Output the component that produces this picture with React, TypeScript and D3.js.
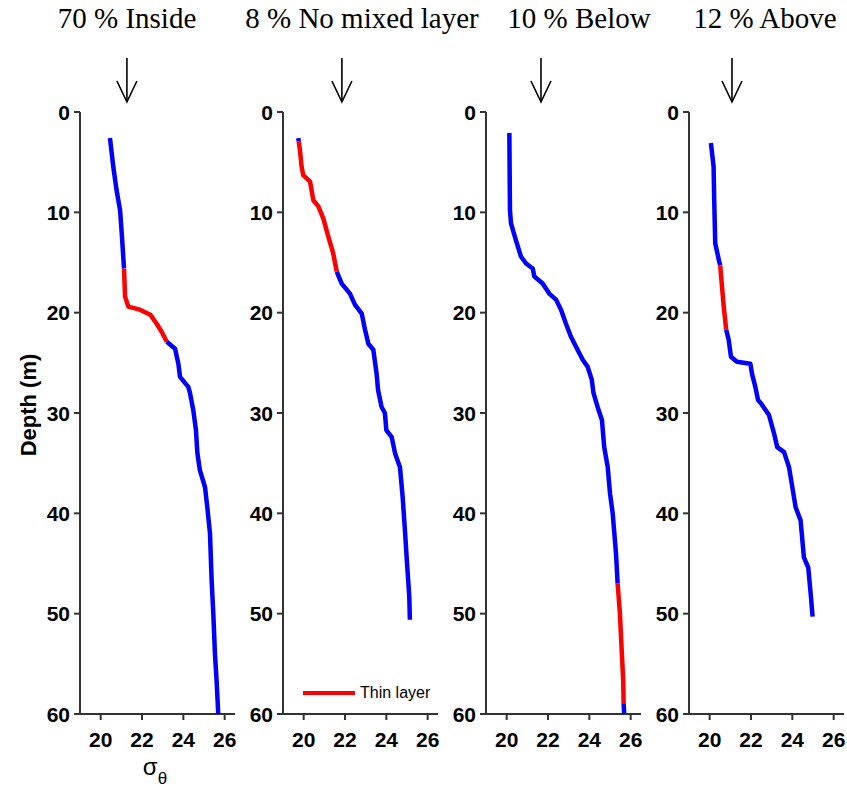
import React from "react";
import * as d3 from "d3";

// ---- data ----
const titles = ["70 % Inside", "8 % No mixed layer", "10 % Below", "12 % Above"];
const arrowSigma = [21.27, 21.85, 21.66, 21.08];
const depthTicks = [0, 10, 20, 30, 40, 50, 60];
const sigmaTicks = [20, 22, 24, 26];

const depth1 = [2.6, 5.45, 7.8, 9.8, 12.1, 15.6, 18.4, 19.4, 19.7, 20.2, 21.1, 21.9, 22.9, 23.6, 25.1, 26.4, 27.4, 28.0, 29.7, 31.7, 34.0, 35.7, 37.4, 39.4, 42.0, 46.7, 50.0, 54.0, 56.7, 60.0];
const sigma1 = [20.45, 20.61, 20.77, 20.94, 21.02, 21.13, 21.18, 21.34, 21.9, 22.4, 22.71, 22.95, 23.2, 23.6, 23.76, 23.84, 24.24, 24.32, 24.48, 24.61, 24.68, 24.8, 25.05, 25.16, 25.29, 25.37, 25.45, 25.53, 25.61, 25.69];

const depth2 = [2.6, 2.9, 3.8, 5.45, 6.3, 6.95, 8.8, 9.4, 10.6, 12.4, 14.1, 15.9, 17.1, 18.1, 19.2, 20.1, 21.7, 23.1, 23.7, 26.1, 27.7, 29.4, 30.0, 31.7, 32.4, 34.0, 35.4, 38.4, 41.7, 44.3, 48.3, 50.6];
const sigma2 = [19.74, 19.76, 19.82, 19.9, 19.98, 20.31, 20.47, 20.71, 20.95, 21.19, 21.43, 21.6, 21.84, 22.24, 22.48, 22.81, 22.97, 23.13, 23.37, 23.53, 23.6, 23.77, 23.93, 24.0, 24.26, 24.42, 24.66, 24.79, 24.9, 24.98, 25.11, 25.14];

const depth3 = [2.1, 9.8, 11.1, 12.8, 14.4, 15.1, 15.6, 16.4, 17.1, 18.1, 18.7, 19.7, 21.1, 22.4, 23.7, 24.7, 25.4, 26.7, 28.0, 29.4, 30.7, 33.4, 35.4, 38.0, 40.0, 42.0, 44.0, 47.0, 50.0, 53.4, 56.7, 59.0, 60.0];
const sigma3 = [20.13, 20.16, 20.21, 20.45, 20.69, 20.94, 21.26, 21.34, 21.74, 22.06, 22.39, 22.63, 22.87, 23.11, 23.43, 23.68, 23.92, 24.12, 24.2, 24.4, 24.61, 24.72, 24.89, 25.0, 25.13, 25.21, 25.29, 25.37, 25.48, 25.56, 25.64, 25.66, 25.69];

const depth4 = [3.1, 5.45, 8.8, 13.1, 14.8, 15.3, 19.4, 21.7, 22.7, 24.4, 24.9, 25.1, 26.1, 27.4, 28.7, 29.0, 30.2, 32.0, 33.4, 33.9, 35.4, 37.4, 39.4, 40.7, 44.4, 45.4, 48.3, 50.3];
const sigma4 = [20.06, 20.19, 20.22, 20.27, 20.45, 20.51, 20.68, 20.8, 20.92, 21.03, 21.32, 21.97, 22.05, 22.21, 22.34, 22.47, 22.87, 23.11, 23.27, 23.6, 23.84, 24.0, 24.16, 24.4, 24.56, 24.77, 24.9, 24.98];

// thin layer (red) depth ranges per profile
const thinStart = [15.6, 2.9, 47.0, 15.3];
const thinEnd = [22.9, 15.9, 59.0, 21.7];

const depths = [depth1, depth2, depth3, depth4];
const sigmas = [sigma1, sigma2, sigma3, sigma4];

// ---- layout ----
const W = 847;
const H = 790;
const panelX0 = 80;
const panelStep = 203;
const plotW = 155;
const top = 112;
const bottom = 714;
const BLUE = "#0000ff";
const RED = "#ff0000";
const AXIS = "#333333";
const SANS = "'Liberation Sans', Arial, sans-serif";
const SERIF = "'Liberation Serif', 'Times New Roman', serif";

const x = d3.scaleLinear().domain([19, 26.5]).range([0, plotW]);
const y = d3.scaleLinear().domain([0, 60]).range([top, bottom]);

type Pt = { d: number; s: number };

function segments(i: number) {
  const pts: Pt[] = depths[i].map((d, k) => ({ d, s: sigmas[i][k] }));
  const segs: { red: boolean; pts: Pt[] }[] = [];
  for (let k = 0; k < pts.length - 1; k++) {
    const a = pts[k];
    const b = pts[k + 1];
    const red = a.d >= thinStart[i] && b.d <= thinEnd[i];
    const last = segs[segs.length - 1];
    if (last && last.red === red) last.pts.push(b);
    else segs.push({ red, pts: [a, b] });
  }
  return segs;
}

const line = d3
  .line<Pt>()
  .x((p) => x(p.s))
  .y((p) => y(p.d));

function Panel({ i }: { i: number }) {
  const x0 = panelX0 + i * panelStep;
  const ax = x(arrowSigma[i]);
  return (
    <g transform={`translate(${x0},0)`}>
      {/* axes */}
      <line x1={0} x2={0} y1={top} y2={bottom} stroke={AXIS} strokeWidth={2} />
      <line x1={0} x2={plotW} y1={bottom} y2={bottom} stroke={AXIS} strokeWidth={2} />
      {depthTicks.map((t) => (
        <g key={"y" + t}>
          <line x1={-6} x2={0} y1={y(t)} y2={y(t)} stroke={AXIS} strokeWidth={2} />
          <text x={-10} y={y(t)} dy="0.36em" textAnchor="end" fontFamily={SANS} fontWeight="bold" fontSize={21} fill="#000">
            {t}
          </text>
        </g>
      ))}
      {sigmaTicks.map((t) => (
        <g key={"x" + t}>
          <line x1={x(t)} x2={x(t)} y1={bottom} y2={bottom + 6} stroke={AXIS} strokeWidth={2} />
          <text x={x(t)} y={747} textAnchor="middle" fontFamily={SANS} fontWeight="bold" fontSize={21} fill="#000">
            {t}
          </text>
        </g>
      ))}
      {/* profile */}
      {segments(i).map((sg, k) => (
        <path key={k} d={line(sg.pts) || ""} fill="none" stroke={sg.red ? RED : BLUE} strokeWidth={4.5} strokeLinejoin="round" strokeLinecap="butt" />
      ))}
      {/* arrow */}
      <g stroke="#000" strokeWidth={1.6} fill="none">
        <line x1={ax} x2={ax} y1={58} y2={102} />
        <polyline points={`${ax - 10},81 ${ax},102 ${ax + 10},81`} />
      </g>
    </g>
  );
}

export default function App() {
  const titleCenters = [127, 362, 579, 765];
  return (
    <svg width={W} height={H} style={{ position: "absolute", left: 0, top: 0, background: "#fff" }}>
      <rect width={W} height={H} fill="#fff" />
      {titles.map((t, i) => (
        <text key={t} x={titleCenters[i]} y={28} textAnchor="middle" fontFamily={SERIF} fontSize={29} fill="#000">
          {t}
        </text>
      ))}
      {[0, 1, 2, 3].map((i) => (
        <Panel key={i} i={i} />
      ))}
      <text transform="translate(36,405) rotate(-90)" textAnchor="middle" fontFamily={SANS} fontWeight="bold" fontSize={22} fill="#000">
        Depth (m)
      </text>
      <text x={155} y={775} textAnchor="middle" fontFamily={SANS} fontSize={24} fill="#000">
        σ<tspan fontSize={17} dy={9}>θ</tspan>
      </text>
      {/* legend */}
      <line x1={panelX0 + panelStep + 20} x2={panelX0 + panelStep + 72} y1={693} y2={693} stroke={RED} strokeWidth={4} />
      <text x={panelX0 + panelStep + 77} y={698} fontFamily={SANS} fontSize={16} fill="#000">
        Thin layer
      </text>
    </svg>
  );
}
